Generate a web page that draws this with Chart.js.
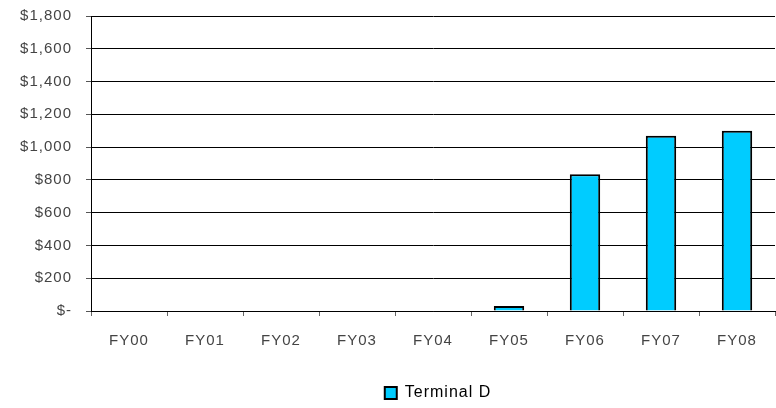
<!DOCTYPE html>
<html>
<head>
<meta charset="utf-8">
<script src="https://cdn.jsdelivr.net/npm/chart.js@4/dist/chart.umd.min.js"></script>
<style>
  html, body { margin: 0; padding: 0; background: #fff; }
  #wrap { width: 776px; height: 408px; }
</style>
</head>
<body>
<div id="wrap"><canvas id="chart" width="776" height="408"></canvas></div>
<script>
// Terminal D by fiscal year
const categories = ['FY00', 'FY01', 'FY02', 'FY03', 'FY04', 'FY05', 'FY06', 'FY07', 'FY08'];
const terminalD = [0, 0, 0, 0, 0, 30, 835, 1070, 1100];
const yMin = 0;
const yMax = 1800;
const yStep = 200;

// the reference text is spaced a bit wider than plain Arial
const spacing = {
    id: 'spacing',
    beforeUpdate: (c) => { c.ctx.letterSpacing = '1px'; },
    beforeLayout: (c) => { c.ctx.letterSpacing = '1px'; },
    beforeDraw: (c) => { c.ctx.letterSpacing = '1px'; }
};

// nudge the legend a little down and right
const legendNudge = {
    id: 'legendNudge',
    afterLayout: (c) => {
        const lg = c.legend;
        if (!lg) return;
        lg.top += 3; lg.bottom += 3;
        lg.left += 5; lg.right += 5;
    }
};

Chart.defaults.font.family = '"Liberation Sans", Arial, sans-serif';
Chart.defaults.font.size = 15;
Chart.defaults.color = '#444';

const ctx = document.getElementById('chart').getContext('2d');
const chart = new Chart(ctx, {
    type: 'bar',
    data: {
        labels: categories,
        datasets: [{
            label: 'Terminal D',
            data: terminalD,
            backgroundColor: '#00CCFF',
            borderColor: '#000000',
            borderWidth: 2,
            borderSkipped: 'bottom',
            categoryPercentage: 1,
            barPercentage: 0.4
        }]
    },
    plugins: [spacing, legendNudge],
    options: {
        responsive: false,
        animation: false,
        layout: {
            padding: { top: 0, right: 1, left: 0, bottom: 0 }
        },
        plugins: {
            legend: {
                position: 'bottom',
                fullSize: false,
                labels: {
                    boxWidth: 12,
                    boxHeight: 12,
                    padding: 2,
                    color: '#444',
                    font: { size: 16 },
                    generateLabels: (c) => [{
                        text: 'Terminal D',
                        fillStyle: '#00CCFF',
                        strokeStyle: '#000000',
                        lineWidth: 2,
                        datasetIndex: 0
                    }]
                }
            },
            tooltip: { enabled: false }
        },
        scales: {
            x: {
                grid: {
                    offset: true,
                    drawOnChartArea: false,
                    tickLength: 5,
                    tickColor: '#666'
                },
                border: { color: '#000', width: 1 },
                ticks: { padding: 16, maxRotation: 0 },
                afterFit: (scale) => { scale.height = 69; }
            },
            y: {
                min: yMin,
                max: yMax,
                grid: {
                    color: '#000',
                    lineWidth: 1,
                    tickLength: 5,
                    tickColor: '#555'
                },
                border: { color: '#000', width: 1 },
                ticks: {
                    stepSize: yStep,
                    padding: 14,
                    callback: (v) => v === 0 ? '$-' : '$' + v.toLocaleString('en-US')
                },
                afterFit: (scale) => {
                    scale.width = 91;
                    scale.paddingTop = 16;
                    scale.paddingBottom = 0;
                }
            }
        }
    }
});
</script>
</body>
</html>
